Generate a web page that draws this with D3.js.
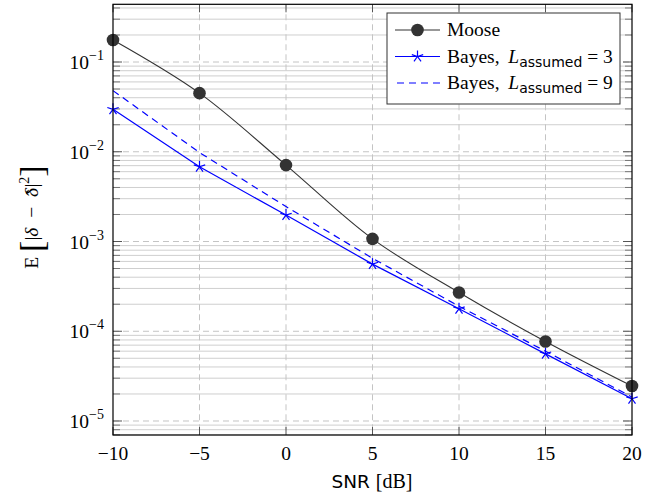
<!DOCTYPE html>
<html><head><meta charset="utf-8">
<script src="https://cdn.jsdelivr.net/npm/d3@7"></script>
<style>body{margin:0;background:#fff}svg{display:block}</style>
</head><body>
<svg id="c" width="667" height="496"></svg>
<script>
const snr = [-10, -5, 0, 5, 10, 15, 20];
const moose = [0.176, 0.045, 0.0071, 0.00107, 0.00027, 0.000077, 0.0000245];
const bayes3 = [0.0297, 0.0068, 0.00197, 0.00056, 0.000178, 0.000056, 0.0000177];
const bayes9 = [0.048, 0.0098, 0.00245, 0.00065, 0.00019, 0.00006, 0.0000185];
const xTicks = [-10, -5, 0, 5, 10, 15, 20];
const yTickExps = [-1, -2, -3, -4, -5];

const svg = d3.select("#c");
const L = 113, R = 632, T = 4.3, B = 435;
const x = d3.scaleLinear().domain([-10, 20]).range([L, R]);
const y = d3.scaleLog().domain([Math.pow(10, -5.156), Math.pow(10, -0.357)]).range([B, T]);
const serif = "'Liberation Serif','DejaVu Serif',serif";
const sans = "'DejaVu Sans','Liberation Sans',sans-serif";

// minor grid
const minor = [];
for (let e = -6; e <= 0; e++) for (let m = 2; m <= 9; m++) {
  const v = m * Math.pow(10, e);
  if (v >= y.domain()[0] && v <= y.domain()[1]) minor.push(v);
}
const g = svg.append("g");
g.selectAll(".mg").data(minor).join("line")
  .attr("x1", L).attr("x2", R).attr("y1", d => y(d)).attr("y2", d => y(d))
  .attr("stroke", "#cfcfcf").attr("stroke-width", 1);
g.selectAll(".mtl").data(minor).join("line")
  .attr("x1", L).attr("x2", L + 7).attr("y1", d => y(d)).attr("y2", d => y(d))
  .attr("stroke", "#777").attr("stroke-width", 1);
g.selectAll(".mtr").data(minor).join("line")
  .attr("x1", R - 7).attr("x2", R).attr("y1", d => y(d)).attr("y2", d => y(d))
  .attr("stroke", "#777").attr("stroke-width", 1);
g.selectAll(".yg").data(yTickExps).join("line")
  .attr("x1", L).attr("x2", R).attr("y1", d => y(Math.pow(10, d))).attr("y2", d => y(Math.pow(10, d)))
  .attr("stroke", "#c4c4c4").attr("stroke-width", 1).attr("stroke-dasharray", "6,4");
g.selectAll(".xg").data(xTicks.slice(1, -1)).join("line")
  .attr("x1", d => x(d)).attr("x2", d => x(d)).attr("y1", T).attr("y2", B)
  .attr("stroke", "#c4c4c4").attr("stroke-width", 1).attr("stroke-dasharray", "6,4");
g.selectAll(".xtb").data(xTicks).join("line")
  .attr("x1", d => x(d)).attr("x2", d => x(d)).attr("y1", B).attr("y2", B - 8)
  .attr("stroke", "#555");
g.selectAll(".xtt").data(xTicks).join("line")
  .attr("x1", d => x(d)).attr("x2", d => x(d)).attr("y1", T).attr("y2", T + 8)
  .attr("stroke", "#555");
g.selectAll(".ytl").data(yTickExps).join("line")
  .attr("x1", L).attr("x2", L + 9).attr("y1", d => y(Math.pow(10, d))).attr("y2", d => y(Math.pow(10, d)))
  .attr("stroke", "#555");
g.selectAll(".ytr").data(yTickExps).join("line")
  .attr("x1", R - 9).attr("x2", R).attr("y1", d => y(Math.pow(10, d))).attr("y2", d => y(Math.pow(10, d)))
  .attr("stroke", "#555");

// lines
const lineS = d3.line().x((d, i) => x(snr[i])).y(d => y(d));
const lineC = d3.line().x((d, i) => x(snr[i])).y(d => y(d)).curve(d3.curveCatmullRom.alpha(0.5));
svg.append("path").attr("d", lineS(bayes9)).attr("fill", "none").attr("stroke", "#0000ff")
  .attr("stroke-width", 1.2).attr("stroke-dasharray", "7,5");
svg.append("path").attr("d", lineS(bayes3)).attr("fill", "none").attr("stroke", "#0000ff").attr("stroke-width", 1.2);
svg.append("path").attr("d", lineC(moose)).attr("fill", "none").attr("stroke", "#333").attr("stroke-width", 1.1);

function star(sel, cx, cy, r) {
  for (let k = 0; k < 5; k++) {
    const a = -Math.PI / 2 + k * 2 * Math.PI / 5;
    sel.append("line").attr("x1", cx).attr("y1", cy)
      .attr("x2", cx + r * Math.cos(a)).attr("y2", cy + r * Math.sin(a))
      .attr("stroke", "#0000ff").attr("stroke-width", 1.2);
  }
}
const sg = svg.append("g");
bayes3.forEach((v, i) => star(sg, x(snr[i]), y(v), 6));
svg.selectAll(".mk").data(moose).join("circle")
  .attr("cx", (d, i) => x(snr[i])).attr("cy", d => y(d)).attr("r", 6.3).attr("fill", "#333");

// frame
svg.append("rect").attr("x", L).attr("y", T).attr("width", R - L).attr("height", B - T)
  .attr("fill", "none").attr("stroke", "#000").attr("stroke-width", 1.2);

// x tick labels
svg.selectAll(".xl").data(xTicks).join("text")
  .attr("x", d => x(d)).attr("y", 460).attr("text-anchor", "middle")
  .attr("font-family", serif).attr("font-size", 19.5)
  .text(d => d < 0 ? "\u2212" + Math.abs(d) : d);
// y tick labels
yTickExps.forEach(e => {
  const t = svg.append("text").attr("x", 104).attr("y", y(Math.pow(10, e)) + 7)
    .attr("text-anchor", "end").attr("font-family", serif).attr("font-size", 19.5);
  t.append("tspan").text("10");
  t.append("tspan").attr("dy", -9).attr("font-size", 14).text("\u2212" + Math.abs(e));
});

// x label
const xl = svg.append("text").attr("x", 372).attr("y", 488).attr("text-anchor", "middle").attr("font-size", 20);
xl.append("tspan").attr("font-family", sans).attr("font-size", 18.5).text("SNR ");
xl.append("tspan").attr("font-family", serif).text("[dB]");

// y label
const yl = svg.append("text").attr("transform", "translate(38,217) rotate(-90)")
  .attr("text-anchor", "middle").attr("font-family", serif).attr("font-size", 19.5);
yl.append("tspan").text("E ");
yl.append("tspan").attr("font-size", 34).attr("dy", 5).text("[");
yl.append("tspan").attr("dy", -5).text("|");
yl.append("tspan").attr("font-style", "italic").text("\u03b4");
yl.append("tspan").text("\u2002\u2212\u2002");
yl.append("tspan").attr("font-style", "italic").text("\u03b4");
yl.append("tspan").attr("dx", -8).attr("dy", 1).text("\u02c6");
yl.append("tspan").attr("dx", 2).attr("dy", -1).text("|");
yl.append("tspan").attr("font-size", 14).attr("dy", -9).text("2");
yl.append("tspan").attr("font-size", 34).attr("dy", 14).text("]");

// legend
const lg = svg.append("g");
lg.append("rect").attr("x", 387).attr("y", 13).attr("width", 233).attr("height", 91)
  .attr("fill", "#fff").attr("stroke", "#333").attr("stroke-width", 1);
const rows = [
  {name: "Moose", v: null, color: "#333", dash: null, mark: "circle"},
  {name: "Bayes, ", v: "3", color: "#0000ff", dash: null, mark: "star"},
  {name: "Bayes, ", v: "9", color: "#0000ff", dash: "7,5", mark: null}
];
rows.forEach((r, i) => {
  const cy = 30 + i * 26.5;
  const ln = lg.append("line").attr("x1", 395).attr("x2", 440).attr("y1", cy).attr("y2", cy)
    .attr("stroke", r.color).attr("stroke-width", 1.2);
  if (r.dash) ln.attr("stroke-dasharray", r.dash).attr("x1", 397);
  if (r.mark === "circle") lg.append("circle").attr("cx", 417.5).attr("cy", cy).attr("r", 6.3).attr("fill", "#333");
  if (r.mark === "star") star(lg, 417.5, cy, 6);
  const t = lg.append("text").attr("x", 447).attr("y", cy + 6).attr("font-family", serif).attr("font-size", 19.5);
  t.append("tspan").text(r.name);
  if (r.v) {
    t.append("tspan").attr("font-style", "italic").text("\u2009L");
    t.append("tspan").attr("font-family", sans).attr("font-size", 14).attr("dy", 4).text("assumed");
    t.append("tspan").attr("dy", -4).text(" = " + r.v);
  }
});
</script>
</body></html>
